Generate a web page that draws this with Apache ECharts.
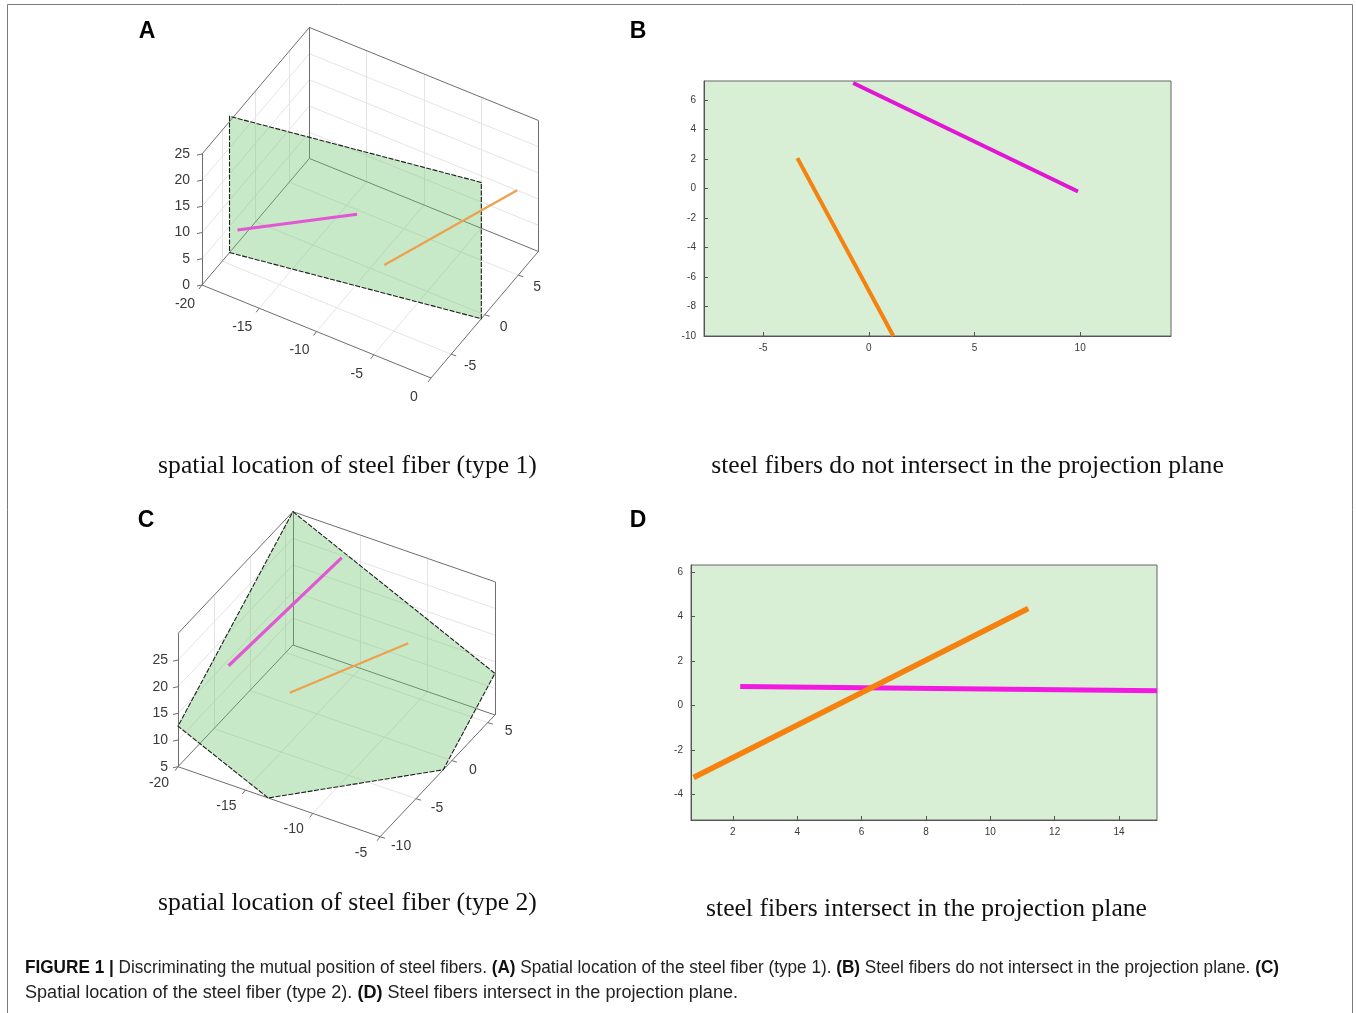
<!DOCTYPE html>
<html><head><meta charset="utf-8">
<script src="https://cdn.jsdelivr.net/npm/echarts@6/dist/echarts.min.js"></script>
<style>html,body{margin:0;padding:0;background:#fff}#c{width:1356px;height:1013px}</style>
</head><body><div id="c"></div>
<script>
// ================= DATA =================
// Panel A : 3D, type 1 (x, y, z data units)
const aXRange = [-20, 0];
const aYRange = [-8, 8];
const aZRange = [0, 25];
const aXTicks = [-20, -15, -10, -5, 0];
const aYTicks = [-5, 0, 5];
const aZTicks = [0, 5, 10, 15, 20, 25];
const aPlane = [[-20, -3.9, 0], [0, -0.5, 0], [0, -0.5, 26], [-20, -3.9, 26]];
const aFiberMagenta = [[-18.07, -6, 9.19], [-9.97, -2, 13.34]];
const aFiberOrange = [[-8.18, -1, 3.74], [-0.68, 6, 14.08]];

// Panel B : projection, no intersection
const bXRange = [-7.8, 14.3];
const bYRange = [-10, 7.3];
const bMagentaX = [-0.74, 9.9];
const bMagentaY = [7.16, -0.2];
const bOrangeX = [-3.38, 1.16];
const bOrangeY = [2.07, -10];

// Panel C : 3D, type 2
const cXRange = [-20, -5];
const cYRange = [-10, 6];
const cZRange = [5, 30];
const cXTicks = [-20, -15, -10, -5];
const cYTicks = [-10, -5, 0, 5];
const cZTicks = [5, 10, 15, 20, 25];
const cPlane = [[-20, 6, 30], [-5, 6, 12.8], [-5, -1.2, 5], [-13.3, -10, 5], [-20, -10, 12.6]];
const cFiberMagenta = [[-18.38, -6, 19.65], [-15.3, 4, 28.34]];
const cFiberOrange = [[-13.84, -6, 18.57], [-9.3, 2, 20.39]];

// Panel D : projection, intersection
const dXRange = [0.7, 15.18];
const dYRange = [-5.14, 6.31];
const dMagentaX = [2.23, 15.18];
const dMagentaY = [0.85, 0.66];
const dOrangeX = [0.78, 11.18];
const dOrangeY = [-3.23, 4.36];

// Texts
const subtitles = [
  'spatial location of steel fiber (type 1)',
  'steel fibers do not intersect in the projection plane',
  'spatial location of steel fiber (type 2)',
  'steel fibers intersect in the projection plane'
];
const panelLetters = ['A', 'B', 'C', 'D'];
const captionLine1 = '{b|FIGURE 1 |} Discriminating the mutual position of steel fibers. {b|(A)} Spatial location of the steel fiber (type 1). {b|(B)} Steel fibers do not intersect in the projection plane. {b|(C)}';
const captionLine2 = 'Spatial location of the steel fiber (type 2). {b|(D)} Steel fibers intersect in the projection plane.';

// ================= STYLE / CAMERA =================
const MAGENTA = '#e016d4';
const ORANGE = '#f5820f';
const PANEL_BG = '#d8eed5';
const camA = {o: [202, 285], ex: [11.45, 4.65], ey: [6.71, -7.91], ez: [0, -5.24], xl: [-17, 19], yl: [19, 12], zl: -12};
const camC = {o: [178, 766.7], ex: [13.47, 4.67], ey: [7.18, -7.61], ez: [0, -5.33], xl: [-19, 16], yl: [21, 9], zl: -10};

const FONT = 'Liberation Sans, Arial, sans-serif';

function build3D(d, cam) {
  const [x0, x1] = d.xr, [y0, y1] = d.yr, [z0, z1] = d.zr;
  const P = p => {
    const dx = p[0] - x0, dy = p[1] - y0, dz = p[2] - z0;
    return [cam.o[0] + dx * cam.ex[0] + dy * cam.ey[0] + dz * cam.ez[0],
            cam.o[1] + dx * cam.ex[1] + dy * cam.ey[1] + dz * cam.ez[1]];
  };
  const inner = (t, r) => t.filter(v => v > r[0] + 1e-9 && v < r[1] - 1e-9);
  const grid = [];
  inner(d.xt, d.xr).forEach(x => { grid.push([[x, y0, z0], [x, y1, z0]]); grid.push([[x, y1, z0], [x, y1, z1]]); });
  inner(d.yt, d.yr).forEach(y => { grid.push([[x0, y, z0], [x1, y, z0]]); grid.push([[x0, y, z0], [x0, y, z1]]); });
  inner(d.zt, d.zr).forEach(z => { grid.push([[x0, y0, z], [x0, y1, z]]); grid.push([[x0, y1, z], [x1, y1, z]]); });
  const box = [
    [[x0, y0, z0], [x1, y0, z0]], [[x1, y0, z0], [x1, y1, z0]], [[x0, y1, z0], [x1, y1, z0]], [[x0, y0, z0], [x0, y1, z0]],
    [[x0, y0, z0], [x0, y0, z1]], [[x0, y0, z1], [x0, y1, z1]], [[x0, y1, z0], [x0, y1, z1]],
    [[x0, y1, z1], [x1, y1, z1]], [[x1, y1, z0], [x1, y1, z1]]
  ];
  const ticks = [];
  d.xt.forEach(x => { const p = P([x, y0, z0]); ticks.push([p, [p[0] - 3, p[1] + 4]]); });
  d.yt.forEach(y => { const p = P([x1, y, z0]); ticks.push([p, [p[0] + 5, p[1] + 1.5]]); });
  d.zt.forEach(z => { const p = P([x0, y0, z]); ticks.push([p, [p[0] - 5, p[1] + 1]]); });

  const segSeries = (arr, color, width, z) => ({
    type: 'lines', coordinateSystem: 'cartesian2d', xAxisIndex: 0, yAxisIndex: 0, silent: true, z,
    lineStyle: {color, width, opacity: 1}, data: arr.map(s => ({coords: s}))
  });
  const textSeries = (items, align, z) => ({
    type: 'custom', coordinateSystem: 'cartesian2d', xAxisIndex: 0, yAxisIndex: 0, silent: true, z,
    data: items,
    renderItem: (params, api) => {
      const pt = api.coord([api.value(0), api.value(1)]);
      return {type: 'text', x: pt[0], y: pt[1],
        style: {text: String(api.value(2)), fill: '#3a3a3a', fontSize: 14, fontFamily: FONT, align, verticalAlign: 'middle'}};
    }
  });
  const n = d.plane.length;
  return [
    segSeries(grid.map(s => s.map(P)), '#e5e5e5', 1, 1),
    segSeries(box.map(s => s.map(P)), '#6e6e6e', 1, 2),
    segSeries(ticks, '#6e6e6e', 1, 2),
    {
      type: 'custom', coordinateSystem: 'cartesian2d', xAxisIndex: 0, yAxisIndex: 0, silent: true, z: 3,
      data: [d.plane.map(P).flat()],
      renderItem: (params, api) => {
        const pts = [];
        for (let i = 0; i < n; i++) pts.push(api.coord([api.value(2 * i), api.value(2 * i + 1)]));
        return {type: 'polygon', shape: {points: pts},
          style: {fill: 'rgba(110,198,110,0.38)', stroke: '#1e1e1e', lineWidth: 1.1, lineDash: [5, 1.5]}};
      }
    },
    {type: 'line', xAxisIndex: 0, yAxisIndex: 0, silent: true, z: 5, symbol: 'none', data: d.fm.map(P),
      lineStyle: {color: '#e257d2', width: 3.2}},
    {type: 'line', xAxisIndex: 0, yAxisIndex: 0, silent: true, z: 5, symbol: 'none', data: d.fo.map(P),
      lineStyle: {color: '#eea04c', width: 2.2}},
    textSeries(d.xt.map(x => { const p = P([x, y0, z0]); return [p[0] + cam.xl[0], p[1] + cam.xl[1], x]; }), 'center', 6),
    textSeries(d.yt.map(y => { const p = P([x1, y, z0]); return [p[0] + cam.yl[0], p[1] + cam.yl[1], y]; }), 'center', 6),
    textSeries(d.zt.map(z => { const p = P([x0, y0, z]); return [p[0] + cam.zl, p[1], z]; }), 'right', 6)
  ];
}

const seriesA = build3D({xr: aXRange, yr: aYRange, zr: aZRange, xt: aXTicks, yt: aYTicks, zt: aZTicks,
  plane: aPlane, fm: aFiberMagenta, fo: aFiberOrange}, camA);
const seriesC = build3D({xr: cXRange, yr: cYRange, zr: cZRange, xt: cXTicks, yt: cYTicks, zt: cZTicks,
  plane: cPlane, fm: cFiberMagenta, fo: cFiberOrange}, camC);

const zip = (xs, ys) => xs.map((x, i) => [x, ys[i]]);

function axis2D(gridIndex, range, step, isY, showMin) {
  return {
    gridIndex, type: 'value', min: range[0], max: range[1], minInterval: step, maxInterval: step,
    axisLine: {show: true, onZero: false, lineStyle: {color: '#555', width: 1}},
    axisTick: {show: true, inside: true, length: 4, lineStyle: {color: '#555'}},
    axisLabel: {show: true, fontSize: 10, color: '#3a3a3a', fontFamily: FONT, margin: isY ? 8 : 7,
      showMinLabel: !!showMin, showMaxLabel: false},
    splitLine: {show: false}
  };
}

// measure helper for text sizing
const mctx = document.createElement('canvas').getContext('2d');
function measure(font, txt) { mctx.font = font; return mctx.measureText(txt).width; }
function fitSize(txt, family, target, base) {
  const w = measure(base + 'px ' + family, txt);
  return base * target / w;
}
function richWidth(str, size, family) {
  let w = 0;
  str.split(/(\{b\|[^}]*\})/).forEach(part => {
    if (!part) return;
    const m = part.match(/^\{b\|([^}]*)\}$/);
    if (m) w += measure('bold ' + size + 'px ' + family, m[1]);
    else w += measure(size + 'px ' + family, part);
  });
  return w;
}

const SERIF = 'Liberation Serif, Times New Roman, serif';
const subPos = [[347.5, 466, 379], [967.5, 466, 513], [347.5, 903, 379], [926.5, 909, 441]];
const letterPos = [[147, 32], [638, 32], [146, 521], [638, 521]];
const CAPF = 'Liberation Sans Narrow, Liberation Sans, Arial, sans-serif';
const capSize = 17.5;
const cap1Scale = 1254 / richWidth(captionLine1, capSize, CAPF);
const cap2Scale = 713 / richWidth(captionLine2, capSize, CAPF);

const graphics = [
  {type: 'rect', shape: {x: 7.5, y: 4.5, width: 1345, height: 1040}, style: {fill: 'none', stroke: '#7a7a7a', lineWidth: 1}, silent: true, z: -10}
];
panelLetters.forEach((t, i) => graphics.push({type: 'text', x: letterPos[i][0], y: letterPos[i][1], silent: true,
  style: {text: t, fontSize: 23, fontWeight: 'bold', fontFamily: FONT, fill: '#000', align: 'center', verticalAlign: 'middle'}}));
subtitles.forEach((t, i) => graphics.push({type: 'text', x: subPos[i][0], y: subPos[i][1], silent: true,
  style: {text: t, fontSize: fitSize(t, SERIF, subPos[i][2], 22), fontFamily: SERIF, fill: '#111', align: 'center', verticalAlign: 'middle'}}));
graphics.push({type: 'text', x: 25, y: 968, scaleX: cap1Scale, silent: true,
  style: {text: captionLine1, fontSize: capSize, fontFamily: CAPF, fill: '#222', align: 'left', verticalAlign: 'middle',
    rich: {b: {fontWeight: 'bold', fontSize: capSize, fontFamily: CAPF, fill: '#111'}}}});
graphics.push({type: 'text', x: 25, y: 993, scaleX: cap2Scale, silent: true,
  style: {text: captionLine2, fontSize: capSize, fontFamily: CAPF, fill: '#222', align: 'left', verticalAlign: 'middle',
    rich: {b: {fontWeight: 'bold', fontSize: capSize, fontFamily: CAPF, fill: '#111'}}}});

const option = {
  animation: false,
  backgroundColor: '#ffffff',
  grid: [
    {left: 0, top: 0, width: 1356, height: 1013, show: false},
    {left: 704, top: 81, width: 467, height: 255, show: true, backgroundColor: PANEL_BG, borderColor: '#666', borderWidth: 1},
    {left: 691, top: 565, width: 466, height: 255, show: true, backgroundColor: PANEL_BG, borderColor: '#666', borderWidth: 1}
  ],
  xAxis: [
    {gridIndex: 0, type: 'value', min: 0, max: 1356, show: false},
    axis2D(1, bXRange, 5, false, false),
    axis2D(2, dXRange, 2, false, false)
  ],
  yAxis: [
    {gridIndex: 0, type: 'value', min: 0, max: 1013, inverse: true, show: false},
    axis2D(1, bYRange, 2, true, true),
    axis2D(2, dYRange, 2, true, false)
  ],
  series: [
    ...seriesA,
    ...seriesC,
    {type: 'line', xAxisIndex: 1, yAxisIndex: 1, symbol: 'none', silent: true, z: 5, data: zip(bMagentaX, bMagentaY),
      lineStyle: {color: MAGENTA, width: 4}},
    {type: 'line', xAxisIndex: 1, yAxisIndex: 1, symbol: 'none', silent: true, z: 5, data: zip(bOrangeX, bOrangeY),
      lineStyle: {color: ORANGE, width: 4}},
    {type: 'line', xAxisIndex: 2, yAxisIndex: 2, symbol: 'none', silent: true, z: 5, data: zip(dMagentaX, dMagentaY),
      lineStyle: {color: '#f21ae0', width: 5}},
    {type: 'line', xAxisIndex: 2, yAxisIndex: 2, symbol: 'none', silent: true, z: 5, data: zip(dOrangeX, dOrangeY),
      lineStyle: {color: ORANGE, width: 5.5}}
  ],
  graphic: graphics
};

const chart = echarts.init(document.getElementById('c'), null, {renderer: 'canvas', width: 1356, height: 1013});
chart.setOption(option);
</script>
</body></html>
